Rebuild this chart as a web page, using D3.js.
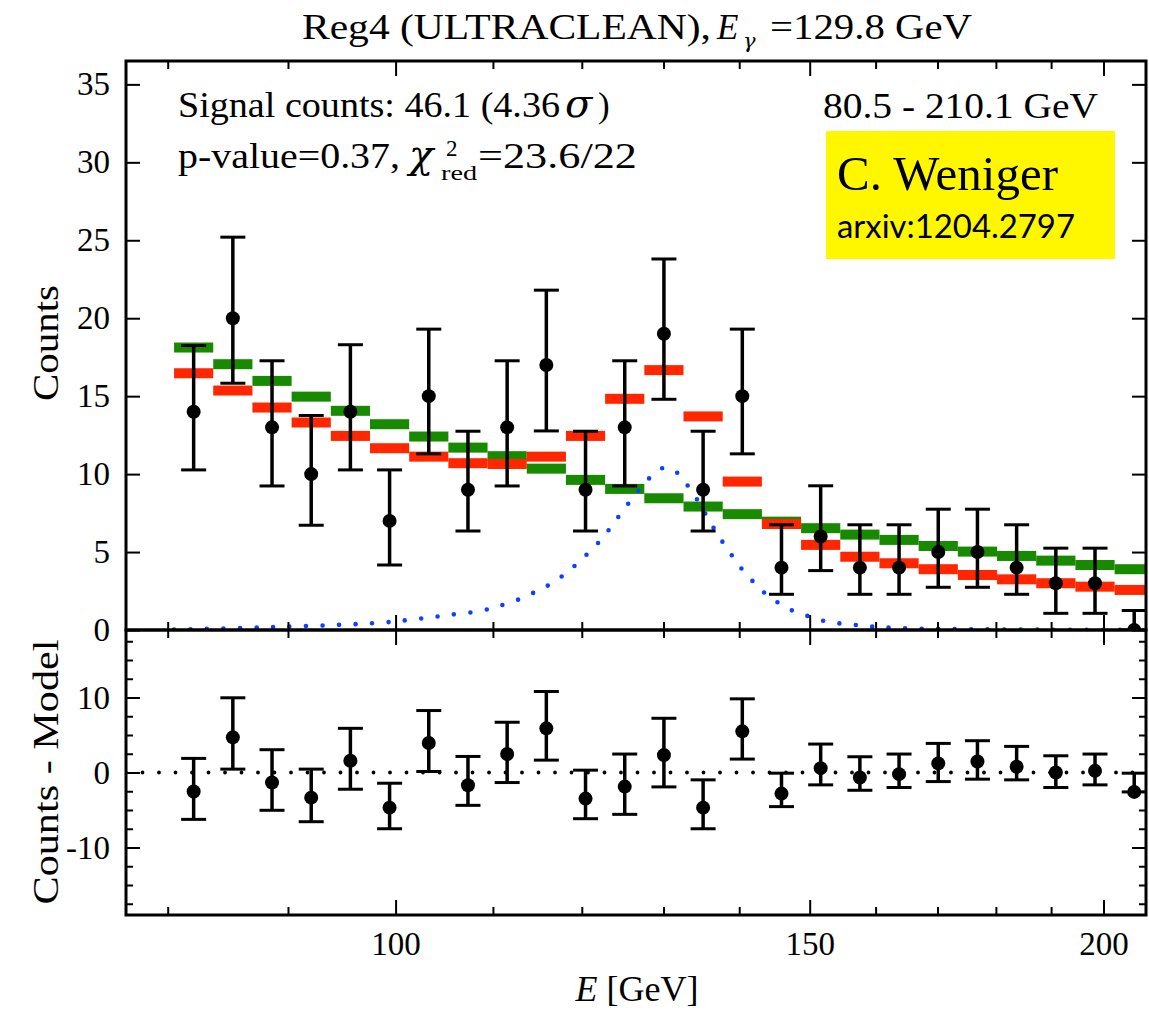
<!DOCTYPE html>
<html><head><meta charset="utf-8">
<script src="https://cdn.jsdelivr.net/npm/d3@7"></script>
<style>body{margin:0;background:#fff}svg{display:block}</style>
</head><body>
<svg id="chart" width="1149" height="1012"></svg>
<script>
// ---------------- data ----------------
const binEdges = [80.50, 83.649, 86.921, 90.321, 93.854, 97.525, 101.340, 105.304, 109.423, 113.704,
  118.152, 122.774, 127.577, 132.568, 137.754, 143.143, 148.742, 154.561, 160.607, 166.890,
  173.419, 180.203, 187.252, 194.577, 202.189, 210.10];
const counts   = [14, 20, 13, 10, 14, 7, 15, 9, 13, 17, 9, 13, 19, 9, 15, 4, 6, 4, 4, 5, 5, 4, 3, 3, 0];
const countsUp = [18.25, 25.2, 17.27, 13.76, 18.3, 10.27, 19.3, 12.75, 17.27, 21.8, 12.75, 17.27, 23.8, 12.75, 19.3, 6.75, 9.25, 6.75, 6.75, 7.75, 7.75, 6.75, 5.25, 5.25, 1.25];
const countsLo = [10.27, 15.83, 9.24, 6.72, 10.27, 4.17, 11.3, 6.35, 9.24, 12.77, 6.35, 9.24, 14.8, 6.35, 11.3, 2.29, 3.81, 2.29, 2.29, 2.74, 2.74, 2.29, 1.07, 1.07, 0];
const bkgModel   = [18.12, 17.05, 15.98, 14.97, 14.06, 13.2, 12.41, 11.7, 11.15, 10.35, 9.63, 9.05, 8.45, 7.92, 7.43, 6.95, 6.53, 6.12, 5.78, 5.39, 5.03, 4.75, 4.45, 4.17, 3.9];
const totalModel = [16.47, 15.36, 14.27, 13.31, 12.45, 11.66, 11.12, 10.7, 10.65, 11.12, 12.45, 14.83, 16.67, 13.7, 9.52, 6.8, 5.46, 4.7, 4.28, 3.9, 3.53, 3.25, 3.0, 2.78, 2.57];
const lineE   = [80.5, 89.4, 98.6, 101.9, 105.3, 108.8, 110.4, 112.2, 113.9, 115.5, 117.2, 118.8, 120.2, 121.6, 122.9, 124.1, 125.3, 126.6, 127.9, 129.5, 130.4, 131.4, 132.8, 134.1, 135.2, 136.3, 137.5, 138.8, 140.1, 141.7, 143.3, 145.2, 147.3, 149.7, 151.9, 154.3, 156.9, 159.6, 163.8, 172, 189.6, 208.5];
const lineVal = [0.03, 0.2, 0.47, 0.69, 0.96, 1.24, 1.5, 1.82, 2.25, 2.67, 3.25, 3.94, 4.64, 5.39, 6.2, 7.06, 7.91, 8.77, 9.58, 10.31, 10.4, 10.23, 9.46, 8.56, 7.66, 6.74, 5.82, 4.92, 4.06, 3.21, 2.46, 1.82, 1.28, 0.9, 0.6, 0.43, 0.32, 0.21, 0.12, 0.06, 0.02, 0.01];
const resid   = [-2.54, 4.69, -1.34, -3.35, 1.56, -4.69, 3.93, -1.7, 2.46, 5.89, -3.48, -1.88, 2.32, -4.69, 5.49, -2.81, 0.58, -0.67, -0.22, 1.21, 1.47, 0.76, 0.0, 0.22, -2.59];
const residUp = [1.88, 9.96, 3.04, 0.45, 5.89, -1.43, 8.26, 2.14, 6.7, 10.8, 0.31, 2.46, 7.23, -0.98, 9.82, -0.09, 3.79, 2.1, 2.46, 3.88, 4.24, 3.48, 2.23, 2.46, -0.09];
const residLo = [-6.25, 0.45, -5.04, -6.56, -2.23, -7.5, 0.13, -4.38, -1.34, 1.65, -6.16, -5.58, -1.92, -7.5, 1.79, -4.55, -1.65, -2.37, -2.0, -1.21, -0.89, -0.98, -2.0, -1.65, -2.59];
const xMajorTicks = [100, 150, 200];
const xMinorTicks = [80, 90, 110, 120, 130, 140, 160, 170, 180, 190];
const yTopTicks = [0, 5, 10, 15, 20, 25, 30, 35];
const yBotTicks = [-10, 0, 10];
const yBotMinor = [-17.5, -15, -12.5, -7.5, -5, -2.5, 2.5, 5, 7.5, 12.5, 15, 17.5];

// ---------------- layout ----------------
const L = 126, R = 1146, T = 61, MID = 630, B = 915;
const SERIF = "'Liberation Serif', 'DejaVu Serif', serif";
const GREEK = "'DejaVu Serif', serif";
const svg = d3.select("#chart");
const x = d3.scaleLog().domain([76.8, 208.5]).range([L, R]);
const yTop = d3.scaleLinear().domain([0, 36.5]).range([MID, T]);
const yBot = d3.scaleLinear().domain([-19, 19]).range([B, MID]);

const bins = counts.map((c, i) => ({
  lo: binEdges[i], hi: binEdges[i + 1], c: Math.sqrt(binEdges[i] * binEdges[i + 1]),
  n: c, up: countsUp[i], dn: countsLo[i], bkg: bkgModel[i], tot: totalModel[i],
  r: resid[i], rup: residUp[i], rdn: residLo[i]
}));

const defs = svg.append("defs");
defs.append("clipPath").attr("id", "clipTop").append("rect").attr("x", L).attr("y", T).attr("width", R - L).attr("height", MID - T);
defs.append("clipPath").attr("id", "clipBot").append("rect").attr("x", L).attr("y", MID).attr("width", R - L).attr("height", B - MID);

// ---------------- top panel ----------------
const gTop = svg.append("g").attr("clip-path", "url(#clipTop)");
const BAR_H = 10;
gTop.selectAll("rect.bkg").data(bins).join("rect").attr("class", "bkg")
  .attr("x", d => x(d.lo)).attr("width", d => x(d.hi) - x(d.lo))
  .attr("y", d => yTop(d.bkg) - BAR_H / 2).attr("height", BAR_H).attr("fill", "#178a00");
gTop.selectAll("rect.tot").data(bins).join("rect").attr("class", "tot")
  .attr("x", d => x(d.lo)).attr("width", d => x(d.hi) - x(d.lo))
  .attr("y", d => yTop(d.tot) - BAR_H / 2).attr("height", BAR_H).attr("fill", "#ff2600");

const linePts = lineE.map((e, i) => [e, lineVal[i]]);
gTop.append("path").datum(linePts)
  .attr("d", d3.line().x(d => x(d[0])).y(d => yTop(d[1])).curve(d3.curveCatmullRom))
  .attr("fill", "none").attr("stroke", "#1040ff").attr("stroke-width", 4.6)
  .attr("stroke-linecap", "round").attr("stroke-dasharray", "0 16.5");

function errorBars(g, data, xs, ys, kUp, kDn, kV) {
  const CAP = 12.5;
  const eg = g.selectAll("g.eb").data(data).join("g").attr("class", "eb");
  eg.append("line").attr("x1", d => xs(d.c)).attr("x2", d => xs(d.c))
    .attr("y1", d => ys(d[kUp])).attr("y2", d => ys(d[kDn])).attr("stroke", "#000").attr("stroke-width", 3.5);
  [kUp, kDn].forEach(k => eg.append("line").attr("x1", d => xs(d.c) - CAP).attr("x2", d => xs(d.c) + CAP)
    .attr("y1", d => ys(d[k])).attr("y2", d => ys(d[k])).attr("stroke", "#000").attr("stroke-width", 3));
  eg.append("circle").attr("cx", d => xs(d.c)).attr("cy", d => ys(d[kV])).attr("r", 7).attr("fill", "#000");
}
errorBars(gTop, bins, x, yTop, "up", "dn", "n");

// ---------------- bottom panel ----------------
const gBot = svg.append("g").attr("clip-path", "url(#clipBot)");
gBot.append("line").attr("x1", L).attr("x2", R).attr("y1", yBot(0)).attr("y2", yBot(0))
  .attr("stroke", "#000").attr("stroke-width", 3.8).attr("stroke-linecap", "round").attr("stroke-dasharray", "0 16.5");
errorBars(gBot, bins, x, yBot, "rup", "rdn", "r");

// ---------------- axes ----------------
function styleAxis(g, size) {
  g.select(".domain").remove();
  g.selectAll(".tick line").attr("stroke", "#000").attr("stroke-width", 2);
  g.selectAll(".tick text").attr("font-family", SERIF).attr("font-size", size).attr("fill", "#000");
}
const noLab = () => "";
function xAxes(yPos, orient, labels) {
  const maj = (orient === "bottom" ? d3.axisBottom(x) : d3.axisTop(x)).tickValues(xMajorTicks).tickSize(-15)
    .tickPadding(17).tickFormat(labels ? d3.format("d") : noLab);
  const min = (orient === "bottom" ? d3.axisBottom(x) : d3.axisTop(x)).tickValues(xMinorTicks).tickSize(-8).tickFormat(noLab);
  styleAxis(svg.append("g").attr("transform", `translate(0,${yPos})`).call(maj), 33);
  styleAxis(svg.append("g").attr("transform", `translate(0,${yPos})`).call(min), 33);
}
xAxes(T, "top", false);
xAxes(MID, "bottom", false);
xAxes(MID, "top", false);
xAxes(B, "bottom", true);

styleAxis(svg.append("g").attr("transform", `translate(${L},0)`)
  .call(d3.axisLeft(yTop).tickValues(yTopTicks).tickSize(-14).tickPadding(16).tickFormat(d3.format("d"))), 33);
styleAxis(svg.append("g").attr("transform", `translate(${R},0)`)
  .call(d3.axisRight(yTop).tickValues(yTopTicks).tickSize(-14).tickFormat(noLab)), 33);
styleAxis(svg.append("g").attr("transform", `translate(${L},0)`)
  .call(d3.axisLeft(yBot).tickValues(yBotTicks).tickSize(-14).tickPadding(16).tickFormat(d => d < 0 ? "-" + Math.abs(d) : d)), 33);
styleAxis(svg.append("g").attr("transform", `translate(${L},0)`)
  .call(d3.axisLeft(yBot).tickValues(yBotMinor).tickSize(-7).tickFormat(noLab)), 33);
styleAxis(svg.append("g").attr("transform", `translate(${R},0)`)
  .call(d3.axisRight(yBot).tickValues(yBotTicks).tickSize(-14).tickFormat(noLab)), 33);
styleAxis(svg.append("g").attr("transform", `translate(${R},0)`)
  .call(d3.axisRight(yBot).tickValues(yBotMinor).tickSize(-7).tickFormat(noLab)), 33);

// frames
[[T, MID], [MID, B]].forEach(([a, b]) => svg.append("rect").attr("x", L).attr("y", a).attr("width", R - L).attr("height", b - a)
  .attr("fill", "none").attr("stroke", "#000").attr("stroke-width", 3));

// ---------------- texts ----------------
function txt(g, xx, yy, s, size, opt = {}) {
  const t = g.append("text").attr("x", xx).attr("y", yy).attr("font-size", size)
    .attr("font-family", opt.family || SERIF).attr("fill", "#000").text(s);
  if (opt.italic) t.attr("font-style", "italic");
  if (opt.anchor) t.attr("text-anchor", opt.anchor);
  if (opt.width) t.attr("textLength", opt.width).attr("lengthAdjust", "spacingAndGlyphs");
  return t;
}
// title
txt(svg, 302, 39, "Reg4 (ULTRACLEAN),", 35, {width: 409});
txt(svg, 717, 39, "E", 35, {italic: true});
txt(svg, 743, 48, "γ", 21, {italic: true, family: GREEK});
txt(svg, 770, 39, "=129.8 GeV", 35, {width: 202});
// annotations
txt(svg, 178, 117, "Signal counts: 46.1 (4.36", 35, {width: 382});
txt(svg, 565, 117, "σ", 40, {italic: true, family: GREEK});
txt(svg, 598, 117, ")", 35);
txt(svg, 178, 168, "p-value=0.37,", 35, {width: 222});
txt(svg, 409, 168, "χ", 40, {italic: true, family: GREEK});
txt(svg, 446, 156, "2", 23);
txt(svg, 441, 180, "red", 22, {width: 36});
txt(svg, 478, 168, "=23.6/22", 35, {width: 159});
txt(svg, 823, 118, "80.5 - 210.1 GeV", 35, {width: 275});
// yellow credit box
svg.append("rect").attr("x", 826).attr("y", 131).attr("width", 289).attr("height", 128).attr("fill", "#fff700");
txt(svg, 837, 190, "C. Weniger", 49, {family: "'Liberation Serif', 'Times New Roman', serif"});
txt(svg, 837, 238, "arxiv:1204.2797", 33, {family: "Lato, 'Open Sans', sans-serif", width: 238});
// axis labels
txt(svg.append("g").attr("transform", "translate(58,343) rotate(-90)"), 0, 0, "Counts", 36, {anchor: "middle", width: 116});
txt(svg.append("g").attr("transform", "translate(58,772) rotate(-90)"), 0, 0, "Counts - Model", 36, {anchor: "middle", width: 265});
const xl = svg.append("text").attr("x", 637).attr("y", 1001).attr("text-anchor", "middle")
  .attr("font-family", SERIF).attr("font-size", 36).attr("fill", "#000");
xl.append("tspan").attr("font-style", "italic").text("E");
xl.append("tspan").text(" [GeV]");
</script>
</body></html>
